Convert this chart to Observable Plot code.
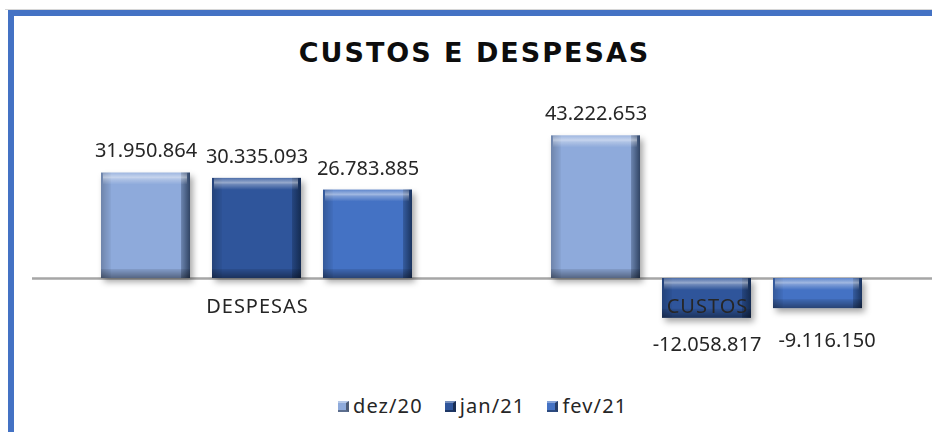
<!DOCTYPE html>
<html><head><meta charset="utf-8">
<script src="https://cdn.jsdelivr.net/npm/d3@7"></script>
<script src="https://cdn.jsdelivr.net/npm/@observablehq/plot@0.6"></script>
<style>
html,body{margin:0;padding:0;background:#fff;}
#wrap{position:relative;width:932px;height:432px;overflow:hidden;font-family:"Noto Sans",sans-serif;color:#262626;}
#gline{position:absolute;left:5px;top:9px;width:940px;height:1px;background:#d6d6d6;}
#frame{position:absolute;left:8px;top:10px;width:1000px;height:500px;border-top:6px solid #4472C4;border-left:6px solid #4472C4;}
#chart{position:absolute;left:0;top:0;}
#title{position:absolute;left:0;top:38px;width:949px;text-align:center;font-family:"DejaVu Sans",sans-serif;font-weight:bold;font-size:27px;letter-spacing:2px;line-height:30px;color:#0d0d0d;}
#legend{position:absolute;left:338px;top:394px;display:flex;align-items:center;font-size:20px;letter-spacing:1.1px;line-height:24px;}
#legend .item{display:flex;align-items:center;margin-right:22px;}
#legend .sw{width:11px;height:11px;margin-right:4px;box-sizing:border-box;border-right:3px solid rgba(0,0,0,.45);border-bottom:2px solid rgba(0,0,0,.35);border-top:2px solid rgba(255,255,255,.35);}
</style></head>
<body>
<div id="wrap">
  <div id="gline"></div>
  <div id="frame"></div>
  <div id="chart"></div>
  <div id="title">CUSTOS E DESPESAS</div>
  <div id="legend"></div>
</div>
<script>
const categories = ["DESPESAS", "CUSTOS"];
const series = ["dez/20", "jan/21", "fev/21"];
const despesasValues = [31950864, 30335093, 26783885];
const custosValues = [43222653, -12058817, -9116150];
const seriesColors = ["#8EAADB", "#2F559B", "#4472C4"];

const valuesByCategory = {DESPESAS: despesasValues, CUSTOS: custosValues};
const data = [];
for (const cat of categories) {
  series.forEach((s, i) => data.push({cat, serie: s, value: valuesByCategory[cat][i]}));
}

const loc = d3.formatLocale({decimal: ",", thousands: ".", grouping: [3], currency: ["", ""], minus: "-"});
const fmt = loc.format(",d");

const font = "Noto Sans";
const labelColor = "#262626";

const chart = Plot.plot({
  width: 932,
  height: 432,
  marginLeft: 32,
  marginRight: 0,
  marginTop: 113,
  marginBottom: 88,
  style: {background: "transparent", fontFamily: font, overflow: "visible"},
  fx: {domain: categories, padding: 0, axis: null},
  x: {domain: series, paddingInner: 0.196, paddingOuter: 0.611, axis: null},
  y: {domain: [-20e6, 50e6], axis: null},
  color: {domain: series, range: seriesColors},
  marks: [
    Plot.ruleY([0], {stroke: "#A6A6A6", strokeWidth: 2.5}),
    Plot.barY(data, {fx: "cat", x: "serie", y: "value", fill: "serie", ariaDescription: "base"}),
    Plot.barY(data, {fx: "cat", x: "serie", y1: 0, y2: "value", insetRight: 79, fill: "url(#gL)"}),
    Plot.barY(data, {fx: "cat", x: "serie", y1: 0, y2: "value", insetLeft: 80, fill: "url(#gR)"}),
    Plot.barY(data, {fx: "cat", x: "serie", y1: d => Math.max(d.value, 0), y2: d => Math.max(d.value, 0), insetBottom: -12, insetLeft: 2, insetRight: 3, fill: "url(#gT)"}),
    Plot.barY(data, {fx: "cat", x: "serie", y1: d => Math.min(d.value, 0), y2: d => Math.min(d.value, 0), insetTop: -9, fill: "url(#gB)"}),
    Plot.text(categories, {fx: d => d, y: () => 0, text: d => d, dy: 28, fontSize: 20, fill: labelColor, ariaDescription: "cat"}),
    Plot.text(data.filter(d => d.value >= 0), {fx: "cat", x: "serie", y: "value", text: d => fmt(d.value), dy: -22, fontSize: 20, fill: labelColor}),
    Plot.text(data.filter(d => d.value < 0 && d.serie !== "fev/21"), {fx: "cat", x: "serie", y: "value", text: d => fmt(d.value), dy: 26, fontSize: 20, fill: labelColor}),
    Plot.text(data.filter(d => d.value < 0 && d.serie === "fev/21"), {fx: "cat", x: "serie", y: "value", text: d => fmt(d.value), dy: 32, dx: 9, fontSize: 20, fill: labelColor})
  ]
});

const svg = d3.select(chart);
svg.insert("defs", ":first-child").html(`
  <linearGradient id="gT" x1="0" y1="0" x2="0" y2="1">
    <stop offset="0" stop-color="#fff" stop-opacity="0.15"/>
    <stop offset="0.4" stop-color="#fff" stop-opacity="0.5"/>
    <stop offset="0.55" stop-color="#fff" stop-opacity="0.3"/>
    <stop offset="1" stop-color="#fff" stop-opacity="0.0"/>
  </linearGradient>
  <linearGradient id="gB" x1="0" y1="0" x2="0" y2="1">
    <stop offset="0" stop-color="#000" stop-opacity="0.08"/>
    <stop offset="1" stop-color="#000" stop-opacity="0.4"/>
  </linearGradient>
  <linearGradient id="gR" x1="0" y1="0" x2="1" y2="0">
    <stop offset="0" stop-color="#0a1a33" stop-opacity="0.25"/>
    <stop offset="1" stop-color="#0a1a33" stop-opacity="0.7"/>
  </linearGradient>
  <linearGradient id="gL" x1="0" y1="0" x2="1" y2="0">
    <stop offset="0" stop-color="#000" stop-opacity="0.22"/>
    <stop offset="1" stop-color="#000" stop-opacity="0.03"/>
  </linearGradient>`);
svg.selectAll('g[aria-description="base"]').style("filter", "drop-shadow(3px 4px 3px rgba(0,0,0,0.35))");
svg.selectAll('g[aria-description="cat"]').style("letter-spacing", "1px");

document.getElementById("chart").appendChild(chart);

const legend = d3.select("#legend");
series.forEach((s, i) => {
  const item = legend.append("div").attr("class", "item");
  item.append("span").attr("class", "sw").style("background", seriesColors[i]);
  item.append("span").text(s);
});
</script>
</body></html>
